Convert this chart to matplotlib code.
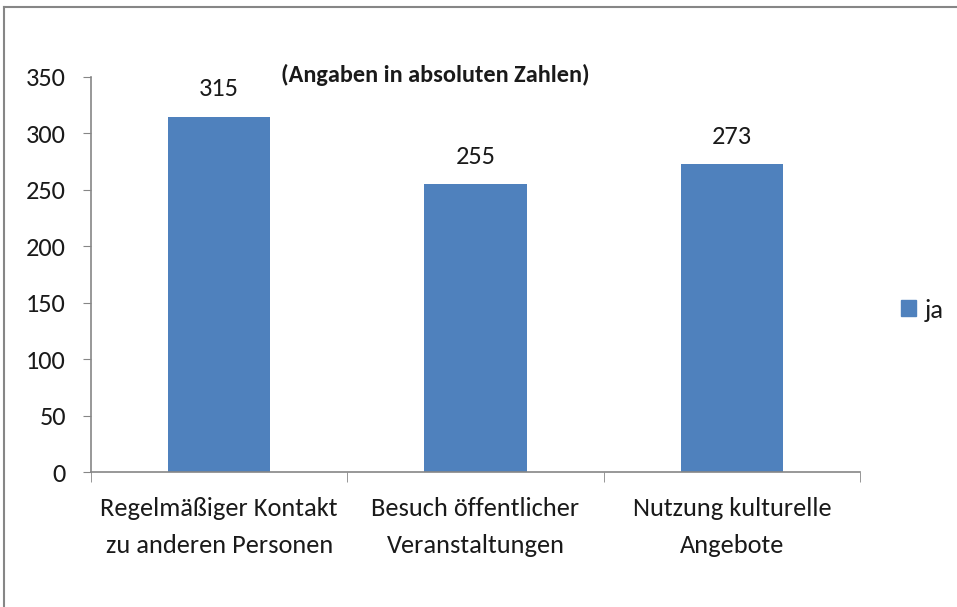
import matplotlib
matplotlib.use("Agg")
import matplotlib.pyplot as plt
from matplotlib.lines import Line2D
from matplotlib.patches import Patch

categories = ["Regelmäßiger Kontakt\nzu anderen Personen",
              "Besuch öffentlicher\nVeranstaltungen",
              "Nutzung kulturelle\nAngebote"]
values = [315, 255, 273]
series_name = "ja"
yticks = [0, 50, 100, 150, 200, 250, 300, 350]

plt.rcParams['font.family'] = ['Carlito', 'Liberation Sans', 'DejaVu Sans']
color = "#4F81BD"
axcol = "#868686"
fs = 19

fig = plt.figure(figsize=(9.57, 6.07), dpi=100)
ax = fig.add_axes([91/957, 1-472/607, (860-91)/957, (472-77)/607])

x = list(range(len(categories)))
ax.bar(x, values, width=0.4, color=color, zorder=2)
ax.set_xlim(-0.5, len(categories)-0.5)
ax.set_ylim(0, 350)
ax.set_yticks(yticks)
ax.set_yticklabels([str(t) for t in yticks], fontsize=fs, color="#1a1a1a")
ax.set_xticks(x)
ax.set_xticklabels(categories, fontsize=fs, linespacing=1.75, color="#1a1a1a")
ax.tick_params(axis='x', length=0, pad=18)
ax.set_xticks([-0.5, 0.5, 1.5, 2.5], minor=True)
ax.tick_params(axis='x', which='minor', length=7, color=axcol, direction='out')
ax.tick_params(axis='y', length=6, color=axcol, direction='out', pad=12)
for s in ['top', 'right']:
    ax.spines[s].set_visible(False)
for s in ['left', 'bottom']:
    ax.spines[s].set_color(axcol)
    ax.spines[s].set_linewidth(1.2)

for xi, v in zip(x, values):
    ax.annotate(str(v), (xi, v), xytext=(0, 20), textcoords='offset points',
                ha='center', va='center', fontsize=fs, color="#1a1a1a")

fig.text(435/957, 1-75/607, "(Angaben in absoluten Zahlen)", ha='center', va='center',
         fontsize=17.5, fontweight='bold', color="#1a1a1a")

fig.legend(handles=[Patch(color=color, label=series_name)], loc='center left',
           bbox_to_anchor=(901/957, 1-310/607), frameon=False, fontsize=fs,
           handlelength=0.55, handleheight=0.55, handletextpad=0.35,
           borderpad=0, borderaxespad=0, labelcolor="#1a1a1a")

fig.add_artist(Line2D([4/957, 1], [1-7/607, 1-7/607], color=axcol, lw=1.5, transform=fig.transFigure))
fig.add_artist(Line2D([4/957, 4/957], [0, 1-7/607], color=axcol, lw=1.5, transform=fig.transFigure))

fig.savefig("out.png", dpi=100)
